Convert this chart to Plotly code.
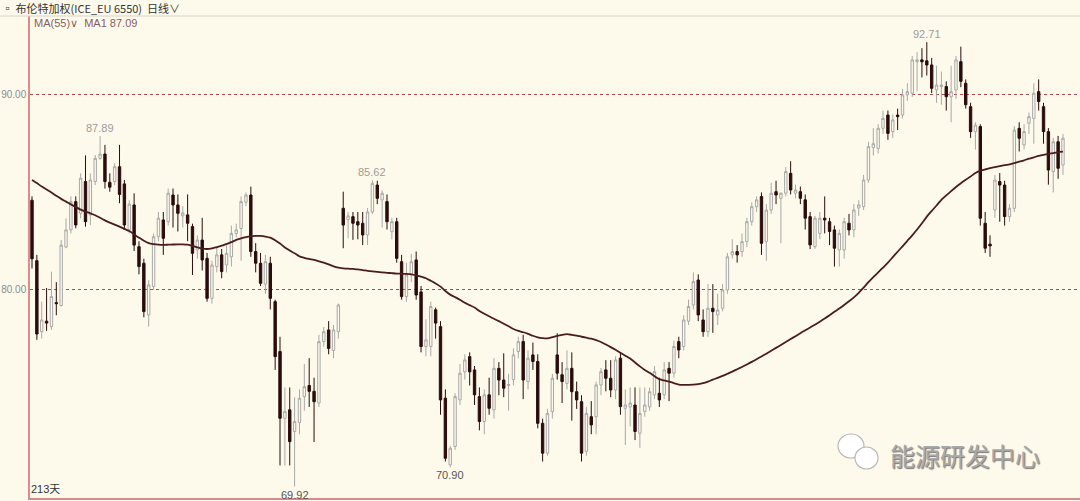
import plotly.graph_objects as go

# ---- data (Brent weighted, daily) ----
open_ = [84.6,81.5,77.86,78.4,78.12,79.35,79.2,82.2,83.08,84.53,83.93,85.56,83.85,85.56,86.75,86.97,85.52,85.56,86.32,85.44,
         83.1,84.36,82.22,81.37,78.72,80.17,82.73,83.59,83.5,84.87,84.36,83.8,83.85,83.25,82.05,82.56,81.62,79.57,81.2,81.8,
         81.28,81.7,82.9,83.15,84.5,84.87,81.97,81.37,80.3,81.37,79.4,76.84,73.42,73.85,72.74,73.2,74.53,75.1,74.8,74.2,
         77.35,77.95,76.9,77.86,84.19,83.6,83.76,83.5,83.42,82.82,84.0,85.38,84.62,84.53,82.99,83.5,81.45,79.66,80.77,81.54,
         79.9,77.1,77.1,78.98,78.12,74.45,71.03,71.97,74.36,75.8,76.58,75.9,74.53,73.25,74.62,73.85,75.98,75.38,75.1,75.4,
         76.84,77.35,75.3,76.67,76.33,73.16,71.63,73.76,76.67,75.65,75.21,75.98,74.78,74.27,71.72,73.5,73.5,75.13,75.9,75.47,
         74.87,76.5,73.93,74.0,74.1,72.65,73.76,74.0,74.62,74.7,74.62,75.98,75.73,77.35,77.1,78.4,79.23,80.51,78.46,77.86,
         79.06,78.72,79.06,80.0,81.8,81.97,81.97,82.48,83.5,84.27,84.79,82.48,84.1,85.04,84.7,84.96,85.98,84.96,85.04,84.62,
         83.76,82.22,82.9,83.68,83.5,83.08,82.05,82.05,83.42,83.08,84.2,84.27,85.64,87.3,87.26,88.29,88.97,88.12,88.97,88.97,
         90.0,90.09,91.7,91.8,91.75,91.54,90.26,90.43,90.43,89.91,90.26,91.71,90.6,89.4,88.12,88.38,83.42,82.35,84.1,85.56,
         85.38,83.76,84.19,88.29,87.44,88.55,88.8,90.17,89.4,88.12,86.07,87.6,86.41]
high = [84.8,81.8,79.4,80.1,80.94,80.4,82.56,83.67,84.8,84.8,85.98,86.9,85.98,86.92,87.89,87.44,85.98,86.5,87.44,85.64,
        84.6,84.96,82.5,81.6,80.5,82.9,84.0,84.0,85.2,85.2,84.9,84.3,84.9,83.4,82.8,83.7,81.9,81.5,82.2,82.1,
        82.3,83.3,83.4,84.8,85.0,85.3,82.4,81.9,81.8,81.7,79.5,77.6,75.0,75.0,74.5,74.9,76.2,76.5,75.5,77.7,
        78.1,78.4,78.2,79.3,85.04,84.0,84.0,84.0,84.0,84.2,85.62,85.6,85.1,84.9,83.7,83.7,81.8,81.4,81.85,81.97,
        80.2,78.5,79.4,79.1,78.4,74.9,72.0,74.7,76.2,76.7,76.8,76.1,75.0,74.9,75.5,76.5,76.3,76.75,75.7,77.0,
        77.6,77.7,76.9,77.3,76.7,73.4,73.9,75.7,77.78,76.3,76.9,76.8,75.3,74.6,74.0,74.3,75.3,76.0,76.4,76.4,
        76.6,76.8,74.9,75.0,75.0,75.0,75.0,75.0,76.1,75.5,76.3,76.3,77.4,77.6,78.7,79.5,80.9,80.8,79.0,80.3,
        80.3,79.8,80.3,81.9,82.6,82.3,82.9,83.7,84.5,84.8,85.0,84.4,85.5,85.6,85.0,86.3,86.6,85.4,85.3,84.9,
        84.0,83.8,84.0,84.8,83.7,83.3,83.1,83.7,83.9,84.4,84.6,85.9,87.6,88.3,88.5,89.2,89.2,89.0,89.3,90.3,
        90.6,92.0,92.2,92.4,92.71,91.9,91.5,91.2,90.7,91.5,92.0,92.48,90.8,89.6,88.6,88.5,84.0,82.8,85.9,86.0,
        85.6,84.4,88.4,88.6,88.5,89.1,90.6,90.8,89.6,88.3,87.8,87.9,88.0]
low = [81.1,77.44,77.5,77.9,77.95,78.7,79.15,82.14,82.9,83.16,83.67,83.25,83.33,85.38,86.67,85.2,85.04,85.38,84.45,83.08,
       82.9,82.0,80.8,78.6,78.12,80.0,82.5,81.8,83.3,83.2,83.0,83.2,82.5,80.77,81.6,81.0,79.4,79.3,80.9,80.6,
       80.9,81.2,82.7,81.5,84.3,81.7,80.9,80.2,79.8,79.0,75.9,71.0,71.0,71.0,69.92,72.6,73.8,74.0,72.2,74.0,
       77.1,76.7,76.5,77.5,82.14,82.65,82.57,82.6,82.3,82.3,83.9,84.4,83.2,83.1,82.6,81.4,79.5,79.4,80.4,79.5,
       76.8,76.6,76.6,77.5,73.6,71.2,70.9,71.8,74.1,75.4,75.1,74.1,72.8,72.6,73.6,73.4,74.6,74.5,73.8,75.1,
       76.5,74.4,74.9,75.9,72.9,71.2,71.5,73.4,75.4,74.2,74.9,73.3,73.9,71.2,71.5,72.6,72.6,74.6,74.8,74.5,
       74.4,73.6,72.05,73.0,72.3,71.9,73.5,73.8,74.4,74.0,74.4,74.3,75.5,76.5,76.9,78.2,79.0,78.4,77.6,77.6,
       77.8,78.2,78.9,79.8,81.6,81.4,81.7,82.2,83.3,84.0,81.8,81.5,83.9,84.4,82.4,84.8,84.9,84.7,84.4,83.1,
       82.1,82.1,82.6,82.9,82.3,81.2,81.2,81.6,82.8,82.7,83.8,84.1,85.5,86.9,87.0,88.0,87.7,87.8,88.2,88.8,
       89.7,89.9,90.2,90.9,91.0,90.1,89.6,89.5,89.2,88.6,89.8,90.4,89.3,87.8,87.2,83.3,81.9,81.7,83.7,83.5,
       83.3,83.5,84.0,87.1,87.2,88.0,87.5,89.2,87.5,85.4,85.0,85.7,85.9]
close = [81.6,77.74,78.46,78.3,79.66,79.3,82.3,83.08,84.53,83.33,85.73,83.5,85.64,86.75,86.97,85.56,85.27,86.32,84.9,83.33,
         84.4,82.3,81.2,78.89,80.26,82.73,83.68,82.65,84.96,84.36,83.93,83.95,83.42,81.88,82.56,81.54,79.57,81.28,81.8,80.94,
         81.88,82.9,83.08,84.53,84.87,81.97,81.37,80.34,81.45,79.57,76.58,73.42,73.76,72.22,73.25,74.45,75.04,74.8,74.27,77.35,
         77.86,77.0,77.95,79.23,83.33,83.8,83.42,83.33,82.82,84.0,85.47,84.7,84.96,83.5,83.5,81.62,79.66,80.77,81.45,79.74,
         77.1,77.44,79.15,78.3,74.36,71.37,71.88,74.53,75.73,76.41,75.8,74.62,73.25,74.62,73.93,75.98,75.38,74.96,75.15,76.67,
         77.35,75.38,76.5,76.33,73.16,71.63,73.67,75.47,75.73,75.3,75.98,74.78,74.36,71.63,73.67,73.08,75.13,75.81,75.47,74.87,
         76.41,74.02,74.1,74.2,72.74,73.67,74.1,74.78,75.81,74.36,75.9,75.73,77.1,76.92,78.46,79.15,80.43,78.72,77.86,79.06,
         78.89,78.97,80.0,81.7,81.97,81.8,82.48,83.5,84.27,84.62,82.39,84.1,84.96,84.87,84.96,86.07,85.13,85.13,84.7,83.68,
         82.31,83.68,83.68,83.59,83.0,82.14,82.9,83.5,83.08,84.1,84.36,85.64,87.35,87.5,88.29,88.8,88.03,88.72,88.89,90.0,
         90.17,91.8,91.8,91.7,91.54,90.34,90.51,90.51,89.91,90.17,91.8,90.7,89.5,88.12,88.46,83.68,82.14,82.26,85.64,85.38,
         83.76,84.19,88.2,87.78,88.12,88.89,90.09,89.66,88.12,86.15,87.6,86.24,87.78]
ma55 = [85.64,85.48,85.30,85.15,85.00,84.83,84.67,84.53,84.39,84.25,84.12,84.02,83.93,83.83,83.70,83.57,83.45,83.35,83.25,83.13,
        83.02,82.85,82.68,82.52,82.40,82.35,82.32,82.31,82.32,82.33,82.34,82.34,82.32,82.26,82.18,82.12,82.10,82.13,82.20,82.27,
        82.36,82.45,82.57,82.65,82.71,82.75,82.77,82.77,82.74,82.68,82.55,82.38,82.18,82.02,81.88,81.72,81.65,81.59,81.54,81.47,
        81.40,81.31,81.21,81.14,81.11,81.09,81.08,81.05,81.02,80.98,80.95,80.93,80.90,80.88,80.86,80.84,80.83,80.82,80.80,80.75,
        80.68,80.60,80.47,80.33,80.17,79.95,79.76,79.63,79.50,79.34,79.22,79.10,78.92,78.78,78.65,78.52,78.40,78.27,78.14,78.00,
        77.90,77.83,77.75,77.65,77.57,77.53,77.52,77.58,77.65,77.70,77.73,77.70,77.66,77.60,77.55,77.50,77.43,77.33,77.20,77.07,
        76.93,76.78,76.63,76.48,76.28,76.08,75.90,75.75,75.58,75.43,75.36,75.30,75.22,75.15,75.13,75.13,75.14,75.17,75.22,75.30,
        75.40,75.49,75.59,75.70,75.81,75.93,76.05,76.18,76.31,76.45,76.59,76.73,76.88,77.03,77.18,77.33,77.48,77.63,77.78,77.93,
        78.07,78.22,78.37,78.53,78.70,78.88,79.05,79.23,79.42,79.62,79.85,80.12,80.40,80.66,80.90,81.15,81.40,81.68,81.96,82.24,
        82.52,82.80,83.10,83.42,83.76,84.05,84.33,84.62,84.85,85.07,85.28,85.47,85.65,85.82,86.00,86.12,86.18,86.25,86.30,86.35,
        86.40,86.44,86.51,86.58,86.65,86.73,86.80,86.88,86.93,86.98,87.02,87.06,87.09]
days = list(range(len(close)))
ytick_vals = [80, 90]
ytick_text = ["80.00", "90.00"]
high_marks = [(14, "87.89"), (70, "85.62"), (184, "92.71")]
low_marks = [(54, "69.92"), (86, "70.90")]

BG = "#FDFAEB"
W, H = 1080, 501
L, R, T, B = 30, 0, 16, 3
pw, ph = W - L - R, H - T - B

def px(x):
    return (x - L) / pw

def py(y):
    return (H - B - y) / ph

fig = go.Figure()
fig.add_trace(go.Candlestick(
    x=days, open=open_, high=high, low=low, close=close,
    increasing=dict(line=dict(color="#A8A8A8", width=1), fillcolor=BG),
    decreasing=dict(line=dict(color="#2A0C0C", width=1), fillcolor="#2A0C0C"),
    whiskerwidth=0, showlegend=False, hoverinfo="skip"))
fig.add_trace(go.Scatter(x=days, y=ma55, mode="lines", line_shape="spline",
                         line=dict(color="#4A1C1C", width=1.8, smoothing=0.6),
                         showlegend=False, hoverinfo="skip"))

ann = []
for i, t in high_marks:
    ann.append(dict(x=i, y=high[i], xref="x", yref="y", text=t, showarrow=False,
                    yanchor="bottom", xanchor="center", yshift=0,
                    font=dict(size=11, color="#9C9C9C", family="Liberation Sans, Arial")))
for i, t in low_marks:
    ann.append(dict(x=i, y=low[i], xref="x", yref="y", text=t, showarrow=False,
                    yanchor="top", xanchor="center", yshift=0,
                    font=dict(size=11, color="#555555", family="Liberation Sans, Arial")))
ann.append(dict(x=px(0), y=py(8), xref="paper", yref="paper", xanchor="left", yanchor="middle",
                text="▫ 布伦特加权(ICE_EU 6550)  日线∨", showarrow=False,
                font=dict(size=11, color="#333333", family="Noto Sans CJK SC, Liberation Sans")))
ann.append(dict(x=px(32), y=py(23), xref="paper", yref="paper", xanchor="left", yanchor="middle",
                text="MA(55)∨  MA1 87.09", showarrow=False,
                font=dict(size=11, color="#8A5E5E", family="Liberation Sans, Arial")))
ann.append(dict(x=px(29), y=py(489), xref="paper", yref="paper", xanchor="left", yanchor="middle",
                text="213天", showarrow=False,
                font=dict(size=11, color="#333333", family="Liberation Sans, Noto Sans CJK SC")))
ann.append(dict(x=px(965), y=py(455), xref="paper", yref="paper", xanchor="center", yanchor="middle",
                text="能源研发中心", showarrow=False,
                font=dict(size=25, color="#A8A8A8", family="Noto Sans CJK SC",
                          shadow="1px 1px 1px #777777")))

shapes = [
    dict(type="line", xref="paper", yref="paper", x0=px(0), x1=1, y0=1, y1=1,
         line=dict(color="#D8D4C6", width=1)),
    dict(type="circle", xref="paper", yref="paper", x0=px(838), x1=px(864), y0=py(458), y1=py(434),
         fillcolor="#FFFFFF", line=dict(color="#B8B8B8", width=1.2)),
    dict(type="circle", xref="paper", yref="paper", x0=px(855), x1=px(878), y0=py(469), y1=py(447),
         fillcolor="#FFFFFF", line=dict(color="#B8B8B8", width=1.2)),
]

fig.update_layout(
    width=W, height=H, margin=dict(l=L, r=R, t=T, b=B, autoexpand=False),
    paper_bgcolor=BG, plot_bgcolor=BG,
    annotations=ann, shapes=shapes, showlegend=False,
    xaxis=dict(range=[-0.41, 215.5], showgrid=False, zeroline=False, showticklabels=False,
               rangeslider=dict(visible=False), showline=True, linecolor="#D98A8A", linewidth=2,
               ticks="", automargin=False),
    yaxis=dict(range=[69.33, 94.05], tickvals=ytick_vals, ticktext=ytick_text, showgrid=True,
               gridcolor="#A84848", griddash="3px,3px", gridwidth=1, zeroline=False,
               showline=True, linecolor="#E08A8A", linewidth=1.5, ticks="", automargin=False,
               tickfont=dict(size=10, color="#8C8C8C", family="Liberation Sans, Arial"), ticklabelstandoff=0),
)
fig.write_html("out.html", config={"displayModeBar": False},
               post_script="document.body.style.margin='0';document.body.style.background='%s';" % BG)
